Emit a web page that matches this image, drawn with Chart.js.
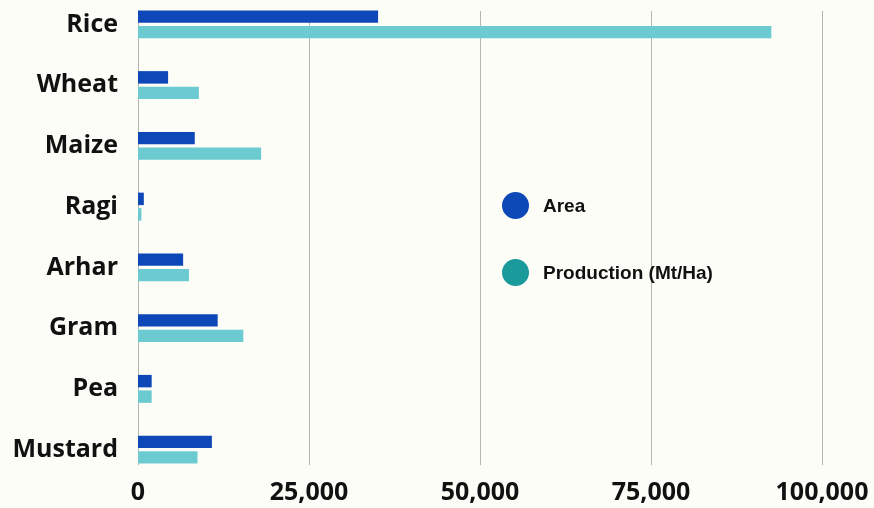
<!DOCTYPE html>
<html>
<head>
<meta charset="utf-8">
<script src="https://cdn.jsdelivr.net/npm/chart.js@4/dist/chart.umd.min.js"></script>
<style>
  html, body { margin: 0; padding: 0; background: #fdfdf7; overflow: hidden; }
  #wrap { position: relative; width: 874px; height: 508px; overflow: hidden; }
  #box { position: absolute; left: 0; top: -20px; width: 874px; height: 528px; }
  #legend { position: absolute; left: 502px; top: 192px; font-family: "Liberation Sans", Arial, sans-serif; font-weight: bold; font-size: 19px; color: #111; }
  #legend .item { display: flex; align-items: center; height: 27px; margin-bottom: 40px; }
  #legend .dot { width: 27px; height: 27px; border-radius: 50%; margin-right: 14px; }
</style>
</head>
<body>
<div id="wrap">
  <div id="box"><canvas id="chart"></canvas></div>
  <div id="legend"></div>
</div>
<script>
const crops = ['Rice', 'Wheat', 'Maize', 'Ragi', 'Arhar', 'Gram', 'Pea', 'Mustard'];
const areaValues = [35100, 4400, 8300, 850, 6600, 11650, 2000, 10800];
const productionValues = [92600, 8900, 18000, 500, 7450, 15400, 2000, 8700];
const xTicks = [0, 25000, 50000, 75000, 100000];

const seriesNames = ['Area', 'Production (Mt/Ha)'];
const barColors = ['#0d47b8', '#6ccbd0'];
const dotColors = ['#0c49b6', '#1b9a9c'];

// vertical grid lines, shorter than the plot area
const gridPlugin = {
  id: 'shortGrid',
  beforeDatasetsDraw(chart) {
    const { ctx, chartArea, scales } = chart;
    const top = chartArea.top + 17;
    const bottom = chartArea.bottom - 15;
    ctx.save();
    ctx.strokeStyle = '#b5b5b2';
    ctx.lineWidth = 1;
    xTicks.forEach(v => {
      const x = Math.round(scales.x.getPixelForValue(v)) + 0.5;
      ctx.beginPath();
      ctx.moveTo(x, top);
      ctx.lineTo(x, bottom);
      ctx.stroke();
    });
    ctx.restore();
  }
};

const labelFont = { family: '"Open Sans", "Noto Sans", sans-serif', weight: 'bold', size: 25 };

new Chart(document.getElementById('chart'), {
  type: 'bar',
  data: {
    labels: crops,
    datasets: [
      { label: seriesNames[0], data: areaValues, backgroundColor: barColors[0] },
      { label: seriesNames[1], data: productionValues, backgroundColor: barColors[1] }
    ]
  },
  options: {
    indexAxis: 'y',
    responsive: true,
    maintainAspectRatio: false,
    animation: false,
    layout: { padding: { top: 14, right: 52, left: 0, bottom: 2 } },
    datasets: { bar: { categoryPercentage: 0.51, barPercentage: 0.806, borderWidth: 0 } },
    plugins: { legend: { display: false }, tooltip: { enabled: false } },
    scales: {
      x: {
        min: 0,
        max: 100000,
        afterBuildTicks(scale) { scale.ticks = xTicks.map(v => ({ value: v })); },
        grid: { display: false, drawTicks: false },
        border: { display: false },
        ticks: {
          padding: -2,
          color: '#111',
          font: labelFont,
          maxRotation: 0,
          callback: v => v.toLocaleString('en-US')
        }
      },
      y: {
        afterFit(scale) {
          scale.width = 138;
          // the label gap should not push the plot area in
          scale.paddingTop = 0;
          scale.paddingBottom = 0;
        },
        grid: { display: false, drawTicks: false },
        border: { display: false },
        ticks: { padding: 20, color: '#111', font: labelFont }
      }
    }
  },
  plugins: [gridPlugin]
});

// legend inside the plot
const legend = document.getElementById('legend');
seriesNames.forEach((name, i) => {
  const item = document.createElement('div');
  item.className = 'item';
  const dot = document.createElement('span');
  dot.className = 'dot';
  dot.style.background = dotColors[i];
  const text = document.createElement('span');
  text.textContent = name;
  item.appendChild(dot);
  item.appendChild(text);
  legend.appendChild(item);
});
</script>
</body>
</html>
